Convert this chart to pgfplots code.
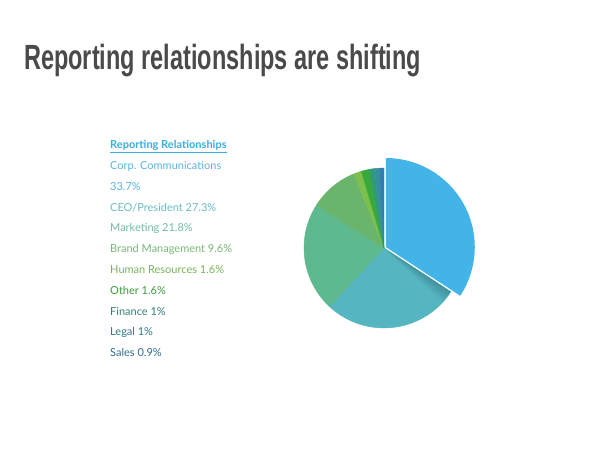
\documentclass[border=0pt]{standalone}
\usepackage{pgfplots}
\pgfplotsset{compat=1.18}
\usepackage{pgfplotstable}
\usepackage{graphicx}
\usepackage{fontspec}
\setmainfont{Lato}
\newfontfamily\titlefont{Liberation Sans}

\definecolor{slice0}{HTML}{42B4E7}
\definecolor{slice1}{HTML}{55B6C2}
\definecolor{slice2}{HTML}{5EB98F}
\definecolor{slice3}{HTML}{6AB56B}
\definecolor{slice4}{HTML}{7DBF4E}
\definecolor{slice5}{HTML}{3AA93B}
\definecolor{slice6}{HTML}{2F9A7A}
\definecolor{slice7}{HTML}{378E9C}
\definecolor{slice8}{HTML}{307FB0}

\definecolor{lg0}{HTML}{3CAEE2}
\definecolor{lg1}{HTML}{5BB5DE}
\definecolor{lg2}{HTML}{6BBCC6}
\definecolor{lg3}{HTML}{70BEA4}
\definecolor{lg4}{HTML}{79B777}
\definecolor{lg5}{HTML}{78B55A}
\definecolor{lg6}{HTML}{3E9B3E}
\definecolor{lg7}{HTML}{35807C}
\definecolor{lg8}{HTML}{2F7A86}
\definecolor{lg9}{HTML}{2F6E8E}
\definecolor{titlegray}{HTML}{4A4A4A}

\pgfplotstableread{
name value
Corp 33.7
CEO 27.3
Marketing 21.8
Brand 9.6
HR 1.6
Other 1.6
Finance 1
Legal 1
Sales 0.9
}\piedata

\begin{document}
\begin{tikzpicture}[x=1bp,y=1bp]
\path[use as bounding box, fill=white] (0,0) rectangle (600,450);
\begin{axis}[at={(0,0)}, anchor=south west, scale only axis,
  width=600bp, height=450bp, xmin=0, xmax=600, ymin=0, ymax=450,
  hide axis, clip=false]
\def\cum{0}
\def\total{98.5}
\pgfplotsforeachungrouped \i in {0,...,8}{%
  \pgfplotstablegetelem{\i}{value}\of\piedata
  \let\v\pgfplotsretval
  \pgfmathsetmacro\s{90-(\cum/\total)*360}%
  \pgfmathsetmacro\e{90-((\cum+\v)/\total)*360}%
  \pgfmathsetmacro\m{(\s+\e)/2}%
  \ifnum\i=0 \def\r{89}\def\off{2}\else\def\r{80}\def\off{0}\fi
  \pgfmathsetmacro\cx{384+\off*cos(\m)}%
  \pgfmathsetmacro\cy{202+\off*sin(\m)}%
  \ifnum\i=0
    \edef\temp{\noexpand\fill[slice\i] (axis cs:\cx,\cy) -- ++(\s:\r bp) arc[start angle=\s, end angle=\e, radius=\r bp] -- cycle;}%
  \else
    \edef\temp{\noexpand\filldraw[fill=slice\i, draw=slice\i, line width=0.4bp, line join=round] (axis cs:\cx,\cy) -- ++(\s:\r bp) arc[start angle=\s, end angle=\e, radius=\r bp] -- cycle;}%
  \fi
  \temp
  \ifnum\i=1
    \pgfplotsforeachungrouped \k in {1,...,6}{%
      \pgfmathsetmacro\se{\s-1.6*\k}%
      \edef\temp{\noexpand\fill[black, opacity=0.03] (axis cs:\cx,\cy) -- ++(\s:79.5bp) arc[start angle=\s, end angle=\se, radius=79.5bp] -- cycle;}%
      \temp
    }%
  \fi
  \pgfmathsetmacro\cum{\cum+\v}%
}
\end{axis}
\node[anchor=base west, inner sep=0, text=titlegray] at (24,380)
  {\resizebox{397bp}{\height}{\fontsize{35bp}{40bp}\titlefont\bfseries Reporting relationships are shifting}};
\begin{scope}[every node/.style={anchor=base west, inner sep=0, font=\fontsize{11bp}{13bp}\selectfont}]
\node[text=lg0] at (110,301) {\bfseries\underline{Reporting Relationships}};
\node[text=lg1] at (110,280.5) {Corp. Communications};
\node[text=lg1] at (110,259.7) {33.7\%};
\node[text=lg2] at (110,238.9) {CEO/President 27.3\%};
\node[text=lg3] at (110,218.1) {Marketing 21.8\%};
\node[text=lg4] at (110,197.3) {Brand Management 9.6\%};
\node[text=lg5] at (110,176.5) {Human Resources 1.6\%};
\node[text=lg6] at (110,155.7) {Other 1.6\%};
\node[text=lg7] at (110,134.9) {Finance 1\%};
\node[text=lg8] at (110,114.1) {Legal 1\%};
\node[text=lg9] at (110,93.3) {Sales 0.9\%};
\end{scope}
\end{tikzpicture}
\end{document}
